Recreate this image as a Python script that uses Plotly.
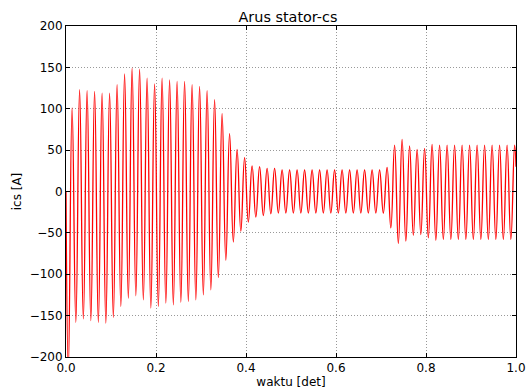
import plotly.graph_objects as go

# ---- data (60 Hz stator current, extremes per cycle) ----
freq_hz = 60.0
first_trough_t = 0.0052
start_value = 0.0
end_value = 30.0

peaks = [101, 123, 122, 121, 119, 119, 129, 142, 149, 148,
         137, 130, 137, 135, 133, 133, 129, 127, 122, 111,
         94, 70, 51, 41, 31, 30, 28, 28, 26, 26,
         26, 26, 26, 26, 26, 26, 26, 26, 26, 26,
         26, 26, 29, 56, 63, 55, 51, 52, 57, 56,
         56, 56, 56, 56, 56, 56, 56, 56, 56, 56]

troughs = [-215, -158, -154, -156, -158, -159, -152, -139, -129, -126,
           -131, -141, -139, -135, -137, -134, -133, -131, -125, -119,
           -104, -83, -61, -48, -37, -31, -29, -27, -26, -26,
           -26, -26, -26, -26, -26, -26, -26, -26, -26, -26,
           -26, -26, -26, -44, -63, -60, -53, -52, -56, -59,
           -58, -58, -58, -58, -58, -58, -58, -58, -58, -58]

x_ticks = [0.0, 0.2, 0.4, 0.6, 0.8, 1.0]
x_tick_labels = ["0.0", "0.2", "0.4", "0.6", "0.8", "1.0"]
y_ticks = [-200, -150, -100, -50, 0, 50, 100, 150, 200]
y_tick_labels = ["\u2212200", "\u2212150", "\u2212100", "\u221250", "0", "50", "100", "150", "200"]

# ---- build the trace from the extremes ----
period = 1.0 / freq_hz
t = [0.0]
v = [start_value]
for k in range(len(peaks)):
    t.append(first_trough_t + k * period)
    v.append(troughs[k])
    t.append(first_trough_t + k * period + period / 2)
    v.append(peaks[k])
t.append(1.0)
v.append(end_value)

font = "DejaVu Sans, Liberation Sans, sans-serif"

fig = go.Figure()
fig.add_trace(go.Scatter(
    x=t, y=v, mode="lines",
    line=dict(color="#ff0000", width=1.3, shape="spline", smoothing=1.3),
    showlegend=False, cliponaxis=True,
))

axis_common = dict(
    showline=True, linecolor="black", linewidth=1, mirror="ticks",
    ticks="inside", ticklen=4, tickcolor="black",
    showgrid=True, gridcolor="rgba(0,0,0,0.4)", gridwidth=1, griddash="1px,2px",
    zeroline=False, tickfont=dict(family=font, size=12, color="black"),
)

fig.update_layout(
    width=526, height=389,
    margin=dict(l=66, r=10, t=26, b=32),
    paper_bgcolor="white", plot_bgcolor="white",
    title=dict(text="Arus stator-cs", x=0.5475, xanchor="center", y=0.956, yanchor="middle",
               font=dict(family=font, size=14.4, color="black")),
    xaxis=dict(range=[0, 1], tickvals=x_ticks, ticktext=x_tick_labels,
               title=dict(text="waktu [det]", standoff=7,
                          font=dict(family=font, size=12, color="black")),
               automargin=False, **axis_common),
    yaxis=dict(range=[-200, 200], tickvals=y_ticks, ticktext=y_tick_labels,
               title=dict(text="ics [A]", standoff=5,
                          font=dict(family=font, size=12, color="black")),
               automargin=False, **axis_common),
)

fig.write_html("out.html", config={"displayModeBar": False},
               post_script="document.body.style.margin='0px';document.body.style.overflow='hidden';")
